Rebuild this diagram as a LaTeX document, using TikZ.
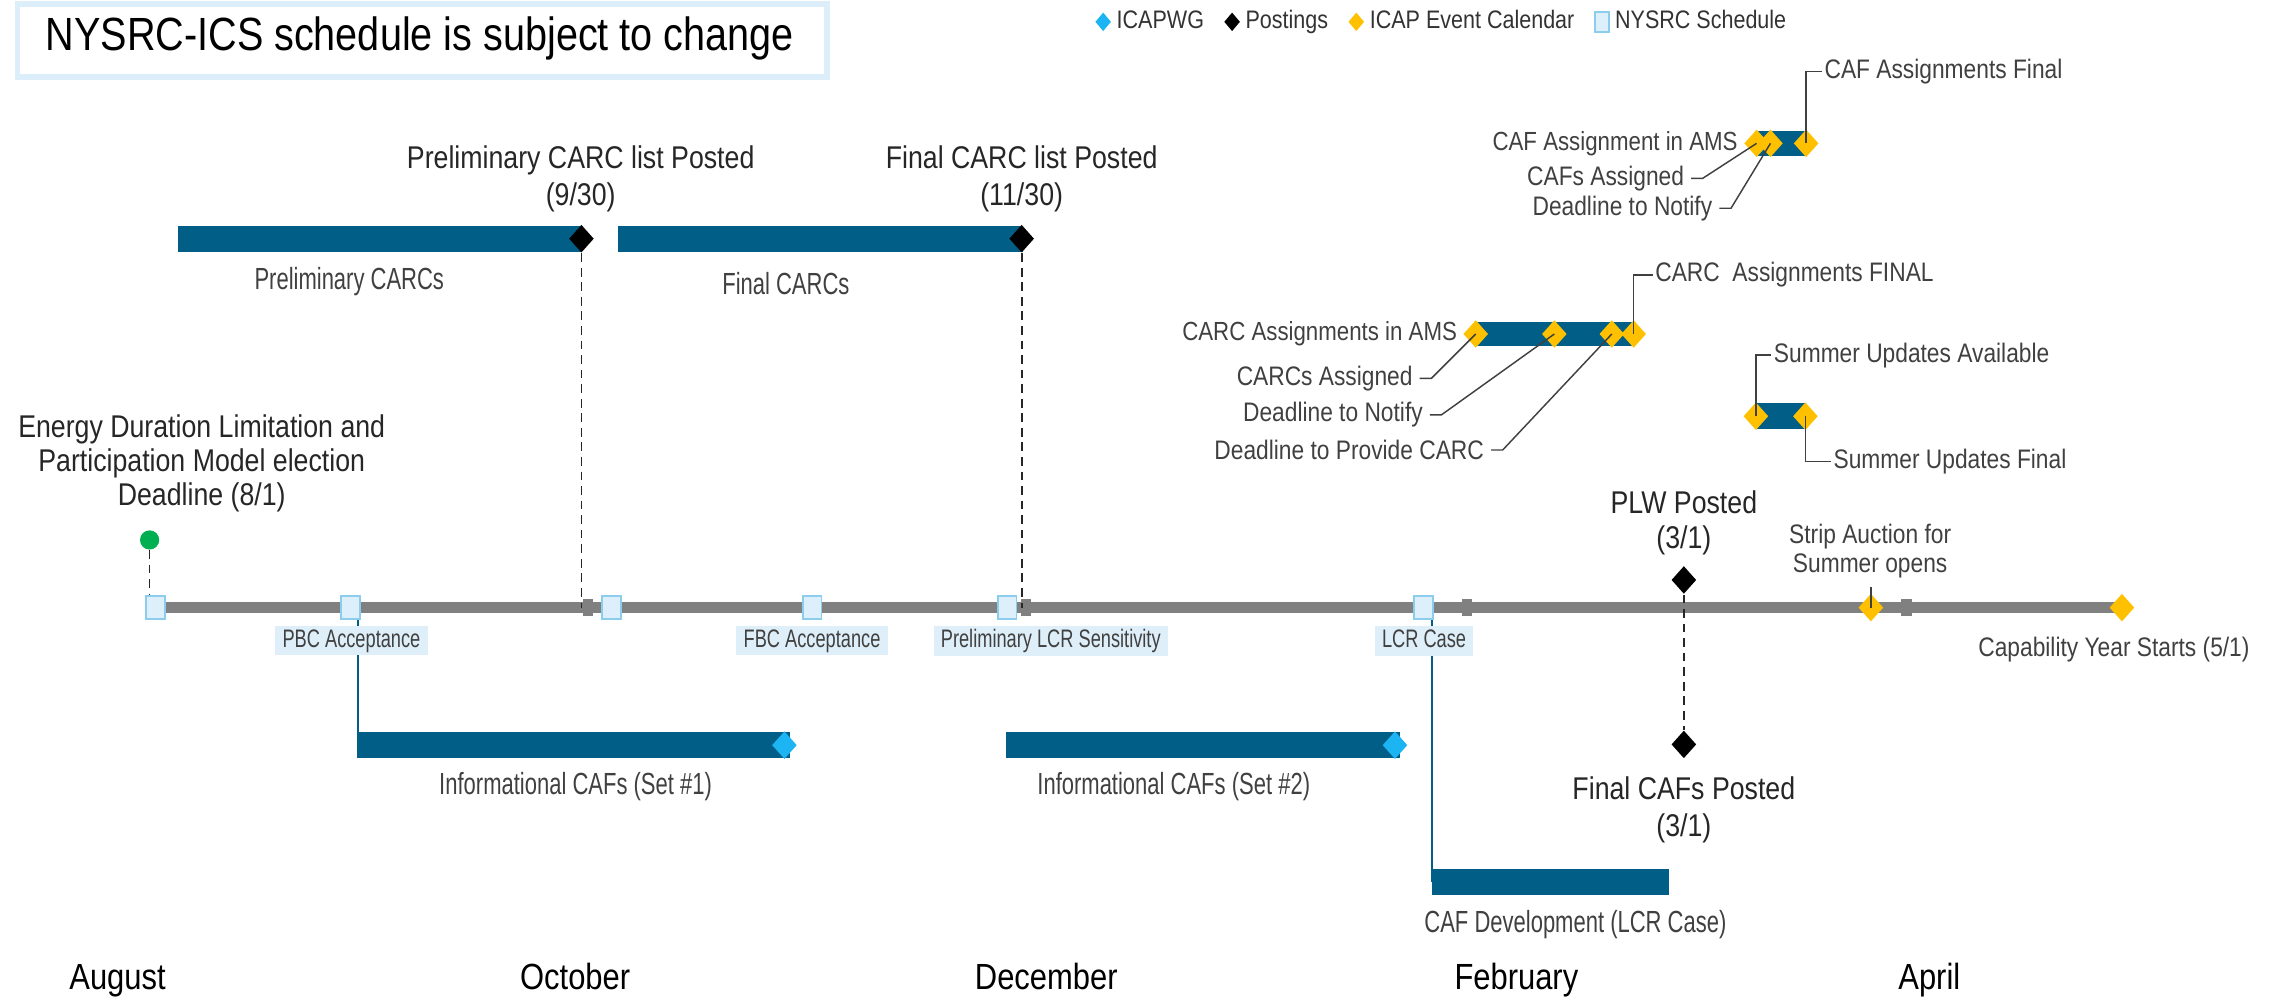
\documentclass[tikz,border=0pt]{standalone}
\usepackage{fontspec}
\setmainfont{Liberation Sans}[FakeStretch=0.85]
\newfontfamily\narrowfont{Liberation Sans}[FakeStretch=0.72]
\usetikzlibrary{positioning,shapes.geometric}

\definecolor{barblue}{HTML}{005E87}
\definecolor{gold}{HTML}{FFC000}
\definecolor{icapblue}{HTML}{1CB4F2}
\definecolor{sqfill}{HTML}{DDEFFA}
\definecolor{sqline}{HTML}{8CCDEE}
\definecolor{boxfill}{HTML}{DEEFF9}
\definecolor{titleline}{HTML}{DBEEF9}
\definecolor{linegray}{HTML}{808080}
\definecolor{txtgray}{HTML}{404040}
\definecolor{dotgreen}{HTML}{00B050}

\tikzset{
  dia/.style={diamond, inner sep=0pt, minimum width=8.6pt, minimum height=9.6pt},
  post/.style={dia, fill=black},
  event/.style={dia, fill=gold},
  icap/.style={dia, fill=icapblue},
  legdia/.style={minimum width=5.5pt, minimum height=6.5pt},
  nysq/.style={rectangle, draw=sqline, fill=sqfill, line width=0.6pt, inner sep=0pt, minimum width=6.5pt, minimum height=8pt},
  monthtick/.style={rectangle, fill=linegray, inner sep=0pt, minimum width=3.5pt, minimum height=6pt},
  bar/.style={fill=barblue},
  conn/.style={draw=barblue, line width=0.6pt},
  nylabel/.style={fill=boxfill, text=txtgray, inner xsep=2.5pt, inner ysep=0.8pt, text height=6.6pt, text depth=2pt, font=\narrowfont\fontsize{8.7}{10}\selectfont},
  barlabel/.style={text=txtgray, inner sep=0.75pt, font=\narrowfont\fontsize{10.5}{12}\selectfont},
  biglabel/.style={text=black!85, inner sep=0.75pt, align=center, font=\fontsize{10.8}{12.6}\selectfont},
  smalllabel/.style={text=txtgray, inner sep=0.75pt, align=center, font=\fontsize{9.2}{9.8}\selectfont},
  legtxt/.style={text=black!80, inner sep=0.5pt, text height=6.4pt, text depth=1.8pt, font=\fontsize{8.7}{10}\selectfont},
  month/.style={text=black, inner sep=0pt, anchor=base west, font=\fontsize{12.5}{14}\selectfont},
  leader/.style={draw=txtgray, line width=0.5pt},
  dashline/.style={draw=black!85, line width=0.6pt, dash pattern=on 3pt off 2pt},
}

\begin{document}
\begin{tikzpicture}[x=0.5pt,y=0.5pt,yscale=-1]
\useasboundingbox (0,0) rectangle (1568,685);

% title
\draw[draw=titleline, line width=2pt, fill=white] (12,3) rectangle (568,53);
\node[anchor=base west, inner sep=0pt, font=\fontsize{16}{18}\selectfont] (title) at (31,34.5) {NYSRC-ICS schedule is subject to change};

% legend
\node[icap, legdia] (lgicap) at (758,15) {};
\node[legtxt, right=1pt of lgicap] (lgicapt) {ICAPWG};
\node[post, legdia, right=6pt of lgicapt] (lgpost) {};
\node[legtxt, right=1pt of lgpost] (lgpostt) {Postings};
\node[event, legdia, right=6pt of lgpostt] (lgevent) {};
\node[legtxt, right=1pt of lgevent] (lgeventt) {ICAP Event Calendar};
\node[nysq, minimum width=5pt, minimum height=7pt, right=6pt of lgeventt] (lgsq) {};
\node[legtxt, right=1pt of lgsq] (lgsqt) {NYSRC Schedule};

% bars
\path[bar] (122,155) rectangle (400,173);
\path[bar] (424.5,155) rectangle (703,173);
\path[bar] (245.5,503) rectangle (543,521);
\path[bar] (691.5,503) rectangle (962,521);
\path[bar] (983.7,597) rectangle (1146.6,615);
\path[bar] (1014,221) rectangle (1122,238);
\path[bar] (1207,90) rectangle (1241,107);
\path[bar] (1206,277) rectangle (1241,295);

% timeline
\coordinate (tl0) at (101,417.5);
\coordinate (tl1) at (1458,417.5);
\draw[line width=3.6pt, linegray] (tl0) -- (tl1);
\foreach \t/\xx in {tka/404,tkb/705,tkc/1008,tkd/1310}
  \node[monthtick] (\t) at (\xx,417.5) {};

\node[nysq] (edsq) at (107,417.5) {};
\node[nysq] (pbcsq) at (241,417.5) {};
\node[nysq] (octsq) at (420,417.5) {};
\node[nysq] (fbcsq) at (558,417.5) {};
\node[nysq] (lcrsq) at (692,417.5) {};
\node[nysq] (casesq) at (978,417.5) {};

% connectors to the CAF bars
\coordinate (setone) at (246,512);
\coordinate (cafdev) at (983.7,606);
\draw[conn] (pbcsq.south -| setone) -- (setone);
\draw[conn] (casesq.south -| cafdev) -- (cafdev);

\node[nylabel] (pbc) at (241.5,440) {PBC Acceptance};
\node[nylabel] (fbc) at (558,440) {FBC Acceptance};
\node[nylabel] (lcrs) at (722,440.5) {Preliminary LCR Sensitivity};
\node[nylabel] (lcrcase) at (978.5,440.5) {LCR Case};

% diamonds
\node[post] (pd1) at (399.5,164) {};
\node[post] (pd2) at (702,164) {};
\node[post] (plw) at (1157,398.5) {};
\node[post] (fcaf) at (1157,511.5) {};
\node[icap] (ic1) at (539,512) {};
\node[icap] (ic2) at (958.5,512) {};
\node[event] (strip) at (1285.5,417.5) {};
\node[event] (capy) at (1458,417.5) {};
\node[event] (cd1) at (1014,229.5) {};
\node[event] (cd2) at (1068,229.5) {};
\node[event] (cd3) at (1107.5,229.5) {};
\node[event] (cd4) at (1122.5,229.5) {};
\node[event] (fd1) at (1207,98.5) {};
\node[event] (fd2) at (1216.5,98.5) {};
\node[event] (fd3) at (1241,98.5) {};
\node[event] (sd1) at (1206.5,286) {};
\node[event] (sd2) at (1240.5,286) {};
\node[circle, fill=dotgreen, inner sep=0pt, minimum size=6.6pt] (eddot) at (102.8,371) {};

% dashed drops
\draw[dashline] (pd1.south) -- (pd1 |- tl0);
\draw[dashline] (pd2.south) -- (pd2 |- tl0);
\draw[dashline] (plw.south) -- (fcaf.north);
\draw[dashline] (eddot.south) -- (eddot |- edsq.north);

% Text Node
\node[biglabel, font=\fontsize{10.8}{11.75}\selectfont] (edtxt) at (138.6,318.5) {Energy Duration Limitation and\\Participation Model election\\Deadline (8/1)};
% Text Node
\node[biglabel] (pdtxt) at (399,123) {Preliminary CARC list Posted\\(9/30)};
% Text Node
\node[biglabel] (fdtxt) at (702,123) {Final CARC list Posted\\(11/30)};
% Text Node
\node[biglabel, font=\fontsize{10.8}{12}\selectfont] (plwtxt) at (1157,359) {PLW Posted\\(3/1)};
% Text Node
\node[biglabel] (fcaftxt) at (1157,556.5) {Final CAFs Posted\\(3/1)};

\node[barlabel] (prelimtxt) at (240,193.5) {Preliminary CARCs};
\node[barlabel] (finaltxt) at (540,195) {Final CARCs};
\node[barlabel] (set1txt) at (395.5,540.5) {Informational CAFs (Set \#1)};
\node[barlabel] (set2txt) at (806.5,540.5) {Informational CAFs (Set \#2)};
\node[barlabel] (cafdevtxt) at (1082.5,635.6) {CAF Development (LCR Case)};

% Text Node
\node[smalllabel] (striptxt) at (1285,378.5) {Strip Auction for\\Summer opens};
\node[smalllabel] (capytxt) at (1452.5,446.5) {Capability Year Starts (5/1)};

% CARC cluster
\node[smalllabel, anchor=east, font=\fontsize{9}{10}\selectfont] (carcams) at (1003,229.5) {CARC Assignments in AMS};
\node[smalllabel, anchor=east] (carcas) at (972.5,260) {CARCs Assigned};
\node[smalllabel, anchor=east] (carcdn) at (979.5,285) {Deadline to Notify};
\node[smalllabel, anchor=east] (carcdp) at (1021.5,309.2) {Deadline to Provide CARC};
\node[smalllabel, anchor=west] (carcfin) at (1135.5,189) {CARC\ \ Assignments FINAL};
\draw[leader] (carcas.east) ++(3,0) -- ++(8,0) -- (cd1.center);
\draw[leader] (carcdn.east) ++(3,0) -- ++(8,0) -- (cd2.center);
\draw[leader] (carcdp.east) ++(3,0) -- ++(8,0) -- (cd3.center);
\draw[leader] (cd4.center) |- (carcfin.west);

% CAF cluster
\node[smalllabel, anchor=east, font=\fontsize{9}{10}\selectfont] (cafams) at (1195.8,99) {CAF Assignment in AMS};
\node[smalllabel, anchor=east] (cafas) at (1159,122.5) {CAFs Assigned};
\node[smalllabel, anchor=east] (cafdn) at (1178.4,143.1) {Deadline to Notify};
\node[smalllabel, anchor=west] (caffin) at (1251.8,49.2) {CAF Assignments Final};
\draw[leader] (cafas.east) ++(3,0) -- ++(8,0) -- (fd1.center);
\draw[leader] (cafdn.east) ++(3,0) -- ++(8,0) -- (fd2.center);
\draw[leader] (fd3.center) |- (caffin.west);

% summer updates
\node[smalllabel, anchor=west] (sumav) at (1217,244) {Summer Updates Available};
\node[smalllabel, anchor=west] (sumfin) at (1258,317) {Summer Updates Final};
\draw[leader] (sd1.center) |- (sumav.west);
\draw[leader] (sd2.center) |- (sumfin.west);

\coordinate (striptop) at (1285.5,403.5);
\draw[leader] (strip.center) -- (striptop);

% months
\node[month] (aug) at (47.3,680) {August};
\node[month] (oct) at (357,680) {October};
\node[month] (dec) at (669.5,680) {December};
\node[month] (feb) at (999,680) {February};
\node[month] (apr) at (1304,680) {April};
\end{tikzpicture}
\end{document}
